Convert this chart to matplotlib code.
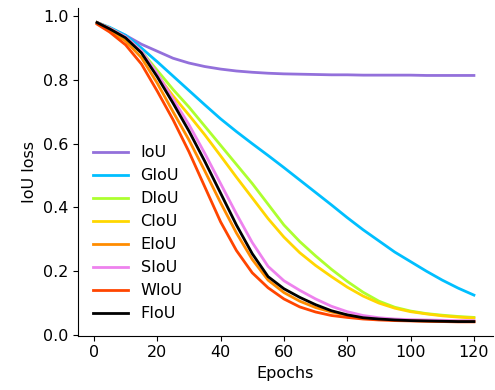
import matplotlib
matplotlib.use("Agg")
import matplotlib.pyplot as plt

epochs = [1, 5, 10, 15, 20, 25, 30, 35, 40, 45, 50, 55, 60,
          65, 70, 75, 80, 85, 90, 95, 100, 105, 110, 115, 120]

iou  = [0.980, 0.963, 0.940, 0.912, 0.890, 0.868, 0.853, 0.842, 0.834, 0.828, 0.824, 0.821, 0.819,
        0.818, 0.817, 0.816, 0.816, 0.815, 0.815, 0.815, 0.815, 0.814, 0.814, 0.814, 0.814]
giou = [0.980, 0.965, 0.940, 0.900, 0.857, 0.812, 0.767, 0.722, 0.678, 0.638, 0.600, 0.563, 0.525,
        0.486, 0.447, 0.408, 0.368, 0.330, 0.295, 0.260, 0.230, 0.200, 0.172, 0.147, 0.125]
diou = [0.980, 0.962, 0.934, 0.890, 0.830, 0.770, 0.715, 0.655, 0.595, 0.535, 0.475, 0.410, 0.345,
        0.293, 0.248, 0.206, 0.168, 0.134, 0.106, 0.087, 0.075, 0.067, 0.062, 0.058, 0.055]
ciou = [0.980, 0.962, 0.934, 0.885, 0.815, 0.750, 0.690, 0.628, 0.562, 0.495, 0.430, 0.365, 0.307,
        0.258, 0.218, 0.183, 0.150, 0.122, 0.100, 0.084, 0.073, 0.066, 0.060, 0.056, 0.053]
eiou = [0.980, 0.955, 0.922, 0.870, 0.790, 0.700, 0.612, 0.515, 0.415, 0.320, 0.237, 0.172, 0.133,
        0.106, 0.086, 0.072, 0.062, 0.055, 0.050, 0.047, 0.045, 0.044, 0.043, 0.042, 0.042]
siou = [0.980, 0.962, 0.935, 0.890, 0.820, 0.740, 0.660, 0.570, 0.475, 0.380, 0.290, 0.215, 0.170,
        0.140, 0.113, 0.090, 0.073, 0.061, 0.054, 0.050, 0.048, 0.047, 0.046, 0.045, 0.045]
wiou = [0.975, 0.950, 0.910, 0.850, 0.765, 0.675, 0.575, 0.465, 0.355, 0.265, 0.195, 0.148, 0.113,
        0.088, 0.072, 0.061, 0.055, 0.050, 0.047, 0.045, 0.044, 0.043, 0.042, 0.041, 0.041]
fiou = [0.980, 0.960, 0.932, 0.885, 0.810, 0.727, 0.640, 0.545, 0.445, 0.345, 0.255, 0.183, 0.145,
        0.118, 0.095, 0.076, 0.063, 0.054, 0.050, 0.047, 0.045, 0.044, 0.043, 0.042, 0.042]

series = [
    ("IoU",  iou,  "mediumpurple"),
    ("GIoU", giou, "deepskyblue"),
    ("DIoU", diou, "greenyellow"),
    ("CIoU", ciou, "gold"),
    ("EIoU", eiou, "darkorange"),
    ("SIoU", siou, "violet"),
    ("WIoU", wiou, "orangered"),
    ("FIoU", fiou, "black"),
]

plt.rcParams["font.size"] = 11.5

fig, ax = plt.subplots(figsize=(4.95, 3.9), dpi=100)
fig.subplots_adjust(left=0.158, right=0.9955, bottom=0.1395, top=0.979)

for name, vals, color in series:
    ax.plot(epochs, vals, color=color, linewidth=2, label=name)

ax.set_ylim(-0.002, 1.025)
ax.set_xticks([0, 20, 40, 60, 80, 100, 120])
ax.set_xlabel("Epochs")
ax.set_ylabel("IoU loss")
ax.spines["top"].set_visible(False)
ax.spines["right"].set_visible(False)
ax.legend(loc="lower left", frameon=False, handlelength=2.2)

plt.savefig("out.png", dpi=100)
plt.close()
